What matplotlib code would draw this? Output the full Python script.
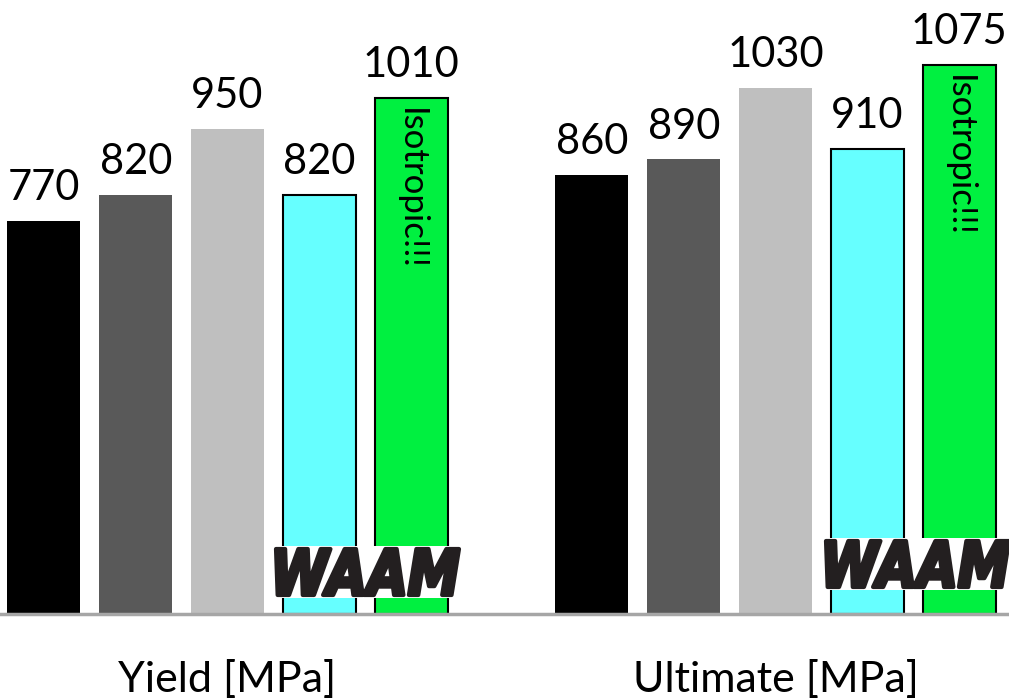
import numpy as np
import matplotlib.pyplot as plt
from matplotlib.patches import Rectangle, PathPatch
from matplotlib.textpath import TextPath
from matplotlib.font_manager import FontProperties
from matplotlib.transforms import Affine2D

# tensile strength values per property group
groups = ["Yield [MPa]", "Ultimate [MPa]"]
series_colors = ["#000000", "#595959", "#BFBFBF", "#66FFFF", "#00F040"]
series_edges = ["none", "none", "none", "black", "black"]
yield_vals = [770, 820, 950, 820, 1010]
ultimate_vals = [860, 890, 1030, 910, 1075]
values = [yield_vals, ultimate_vals]

plt.rcParams['font.family'] = ['Lato', 'DejaVu Sans']

fig = plt.figure(figsize=(10.09, 7.0), dpi=100)
ax = fig.add_axes([0, (700 - 614) / 700, 1, 614 / 700])

pitch = 0.1675
width = 0.133
x = np.arange(len(groups))

for i in range(5):
    xs = x + (i - 2) * pitch
    vals = [v[i] for v in values]
    ax.bar(xs, vals, width=width, color=series_colors[i],
           edgecolor=series_edges[i], linewidth=1.5 if series_edges[i] != "none" else 0)
    for xi, v in zip(xs, vals):
        ax.annotate(str(v), (xi, v), xytext=(0, 15), textcoords="offset points",
                    ha="center", va="baseline", fontsize=30, color="#000000")

# rotated note inside the last bar of each group
for g in range(len(groups)):
    xi = x[g] + 2 * pitch
    ax.annotate("Isotropic!!!", (xi, values[g][4]), xytext=(0, -7),
                textcoords="offset points", ha="center", va="top",
                rotation=270, fontsize=25)

# WAAM logo bands: white strip with stretched heavy lettering
logo = TextPath((0, 0), "WAAM", size=1,
                prop=FontProperties(family="DejaVu Sans", weight="bold", style="oblique"))
ext = logo.get_extents()
for left, right, ybot, ytop in [(272, 463, 598, 546), (822, 1020, 590, 538)]:
    x0 = (left - 227.5) / 548
    x1 = (right - 227.5) / 548
    y0 = (614 - ybot) / 0.5107
    y1 = (614 - ytop) / 0.5107
    ax.add_patch(Rectangle((x0, y0), x1 - x0, y1 - y0, facecolor="white",
                           edgecolor="none", zorder=3, clip_on=False))
    padx = 4 / 548
    pady = 3 / 0.5107
    tx0, tx1 = x0 + padx, x0 + (463 - 272 - 4) / 548
    ty0, ty1 = y0 + pady, y1 - pady
    tr = (Affine2D().translate(-ext.x0, -ext.y0)
          .scale((tx1 - tx0) / ext.width, (ty1 - ty0) / ext.height)
          .translate(tx0, ty0))
    ax.add_patch(PathPatch(tr.transform_path(logo), facecolor="#231F20",
                           edgecolor="#231F20", linewidth=3, joinstyle="round",
                           zorder=4, clip_on=False))

ax.set_xlim(-227.5 / 548, (1009 - 227.5) / 548)
ax.set_ylim(0, 614 / 0.5107)
ax.axhline(0, color="#A6A6A6", linewidth=2.5, zorder=5, clip_on=False)

for g, name in enumerate(groups):
    ax.text(x[g], -(679 - 614) / 614, name, transform=ax.get_xaxis_transform(),
            ha="center", va="center", fontsize=31, clip_on=False)

ax.axis("off")
fig.savefig("out.png", dpi=100)
